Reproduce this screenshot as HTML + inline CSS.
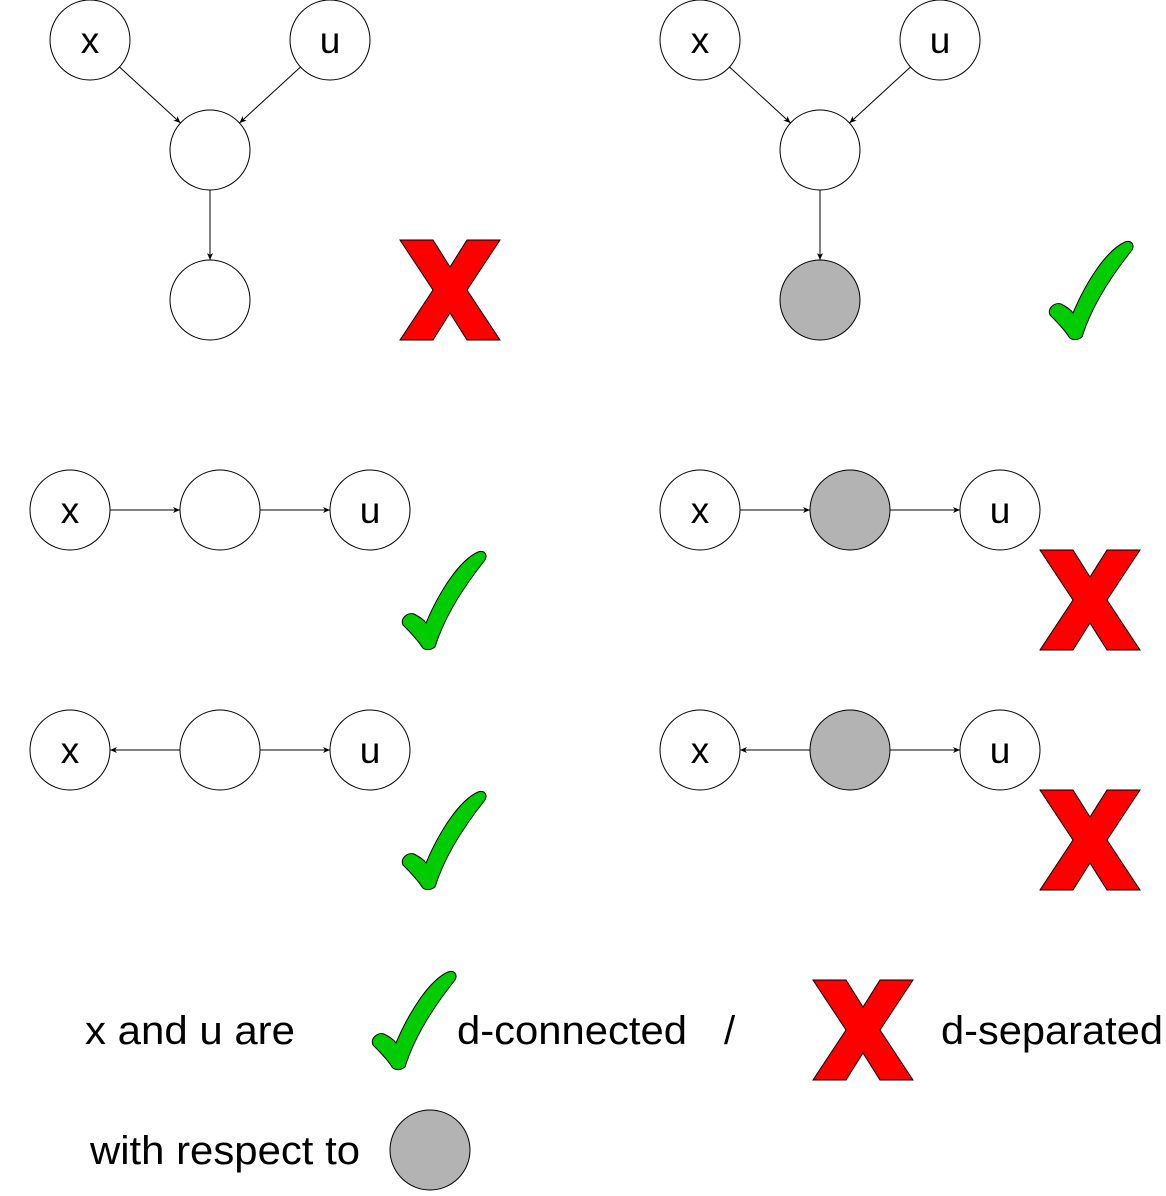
<!DOCTYPE html>
<html><head><style>body{margin:0;background:#fff}</style></head><body>
<svg width="1166" height="1191" xmlns="http://www.w3.org/2000/svg" font-family="Liberation Sans, sans-serif">
<defs>
<marker id="a" markerWidth="8" markerHeight="8" refX="7" refY="4" orient="auto" markerUnits="userSpaceOnUse"><path d="M0,1 L7,4 L0,7 L2,4 Z" fill="#000"/></marker>
<path id="X" d="M0,0 L33,0 L50,27 L67,0 L100,0 L67,50 L100,100 L67,100 L50,73 L33,100 L0,100 L33,50 Z" fill="#f00" stroke="#000" stroke-width="1"/>
<path id="C" d="M26,73 C40,40 60,10 78,2 C84,0 88,4 85,10 C65,35 45,65 35,97 C30,101 24,100 22,97 C18,90 8,80 3,75 C0,68 8,62 14,64 C20,67 24,70 26,73 Z" fill="#0c0" stroke="#000" stroke-width="1"/>
</defs>
<g stroke="#000" stroke-width="1" fill="#fff">
<circle cx="90" cy="40" r="40"/><circle cx="330" cy="40" r="40"/><circle cx="210" cy="150" r="40"/><circle cx="210" cy="300" r="40"/>
<circle cx="700" cy="40" r="40"/><circle cx="940" cy="40" r="40"/><circle cx="820" cy="150" r="40"/><circle cx="820" cy="300" r="40" fill="#b3b3b3"/>
<circle cx="70" cy="510" r="40"/><circle cx="220" cy="510" r="40"/><circle cx="370" cy="510" r="40"/>
<circle cx="700" cy="510" r="40"/><circle cx="850" cy="510" r="40" fill="#b3b3b3"/><circle cx="1000" cy="510" r="40"/>
<circle cx="70" cy="750" r="40"/><circle cx="220" cy="750" r="40"/><circle cx="370" cy="750" r="40"/>
<circle cx="700" cy="750" r="40"/><circle cx="850" cy="750" r="40" fill="#b3b3b3"/><circle cx="1000" cy="750" r="40"/>
<circle cx="430" cy="1150" r="40" fill="#b3b3b3"/>
</g>
<g stroke="#000" stroke-width="1" marker-end="url(#a)">
<line x1="119.5" y1="67" x2="180.5" y2="123"/><line x1="300.5" y1="67" x2="239.5" y2="123"/><line x1="210" y1="190" x2="210" y2="260"/>
<line x1="729.5" y1="67" x2="790.5" y2="123"/><line x1="910.5" y1="67" x2="849.5" y2="123"/><line x1="820" y1="190" x2="820" y2="260"/>
<line x1="110" y1="510" x2="180" y2="510"/><line x1="260" y1="510" x2="330" y2="510"/>
<line x1="740" y1="510" x2="810" y2="510"/><line x1="890" y1="510" x2="960" y2="510"/>
<line x1="180" y1="750" x2="110" y2="750"/><line x1="260" y1="750" x2="330" y2="750"/>
<line x1="810" y1="750" x2="740" y2="750"/><line x1="890" y1="750" x2="960" y2="750"/>
</g>
<g font-size="37" text-anchor="middle" fill="#000">
<text x="90" y="53">x</text><text x="330" y="53">u</text><text x="700" y="53">x</text><text x="940" y="53">u</text>
<text x="70" y="523">x</text><text x="370" y="523">u</text><text x="700" y="523">x</text><text x="1000" y="523">u</text>
<text x="70" y="763">x</text><text x="370" y="763">u</text><text x="700" y="763">x</text><text x="1000" y="763">u</text>
</g>
<use href="#X" x="400" y="240"/><use href="#C" x="1047" y="240"/>
<use href="#C" x="400" y="550"/><use href="#X" x="1040" y="550"/>
<use href="#C" x="400" y="790"/><use href="#X" x="1040" y="790"/>
<use href="#C" x="370" y="970"/><use href="#X" x="813" y="980"/>
<g font-size="40" fill="#000">
<text x="85" y="1044" textLength="210" lengthAdjust="spacingAndGlyphs">x and u are</text>
<text x="457" y="1044" textLength="230" lengthAdjust="spacingAndGlyphs">d-connected</text>
<text x="724" y="1044">/</text>
<text x="941" y="1044" textLength="222" lengthAdjust="spacingAndGlyphs">d-separated</text>
<text x="90" y="1164" textLength="270" lengthAdjust="spacingAndGlyphs">with respect to</text>
</g>
</svg>
</body></html>
